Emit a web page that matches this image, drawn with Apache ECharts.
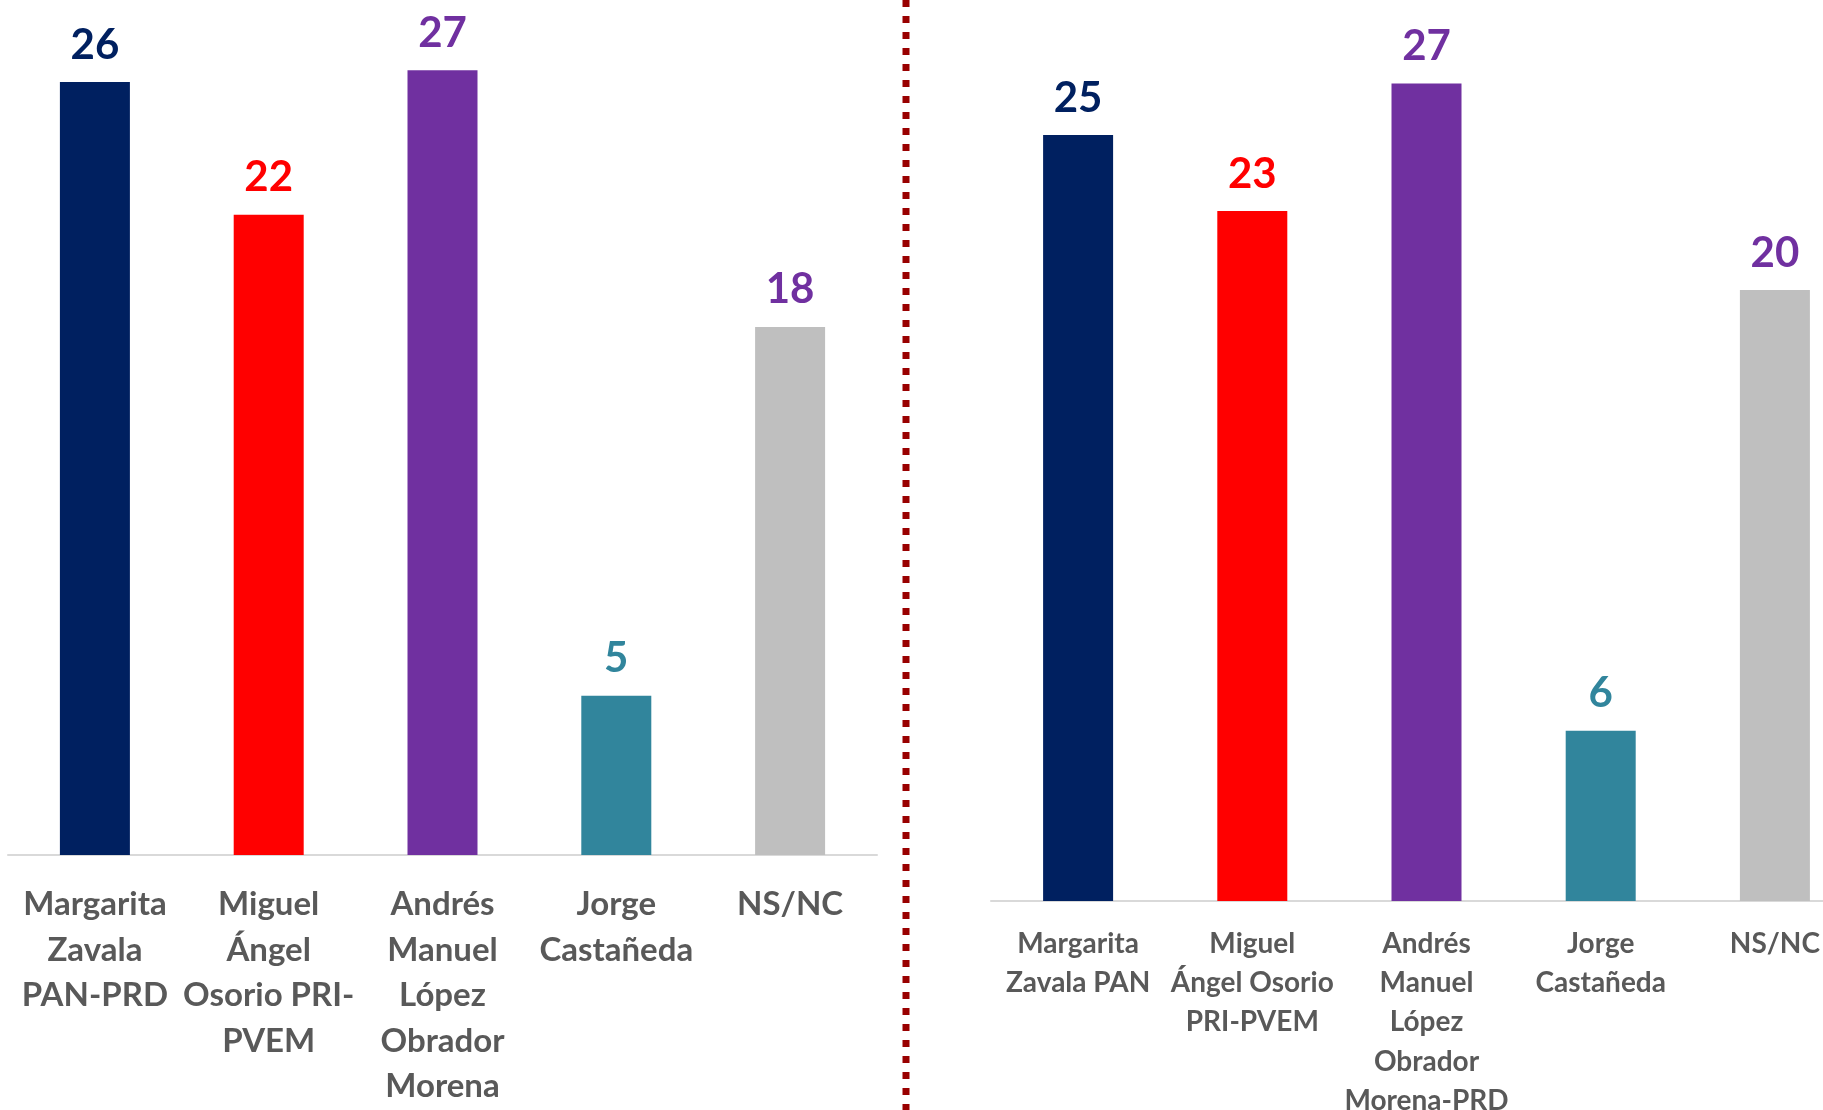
<!DOCTYPE html>
<html>
<head>
<meta charset="utf-8">
<script src="https://cdn.jsdelivr.net/npm/echarts@6/dist/echarts.min.js"></script>
<style>
  html, body { margin: 0; padding: 0; background: #fff; overflow: hidden; }
  #chart { width: 1823px; height: 1110px; }
</style>
</head>
<body>
<div id="chart"></div>
<script>
// categorias (con saltos de línea como en el original)
const categoriesLeft = [
  'Margarita\nZavala\nPAN-PRD',
  'Miguel\nÁngel\nOsorio PRI-\nPVEM',
  'Andrés\nManuel\nLópez\nObrador\nMorena',
  'Jorge\nCastañeda',
  'NS/NC'
]
const categoriesRight = [
  'Margarita\nZavala PAN',
  'Miguel\nÁngel Osorio\nPRI-PVEM',
  'Andrés\nManuel\nLópez\nObrador\nMorena-PRD',
  'Jorge\nCastañeda',
  'NS/NC'
]
const valuesLeft = [26.2, 21.7, 26.6, 5.4, 17.9]
const valuesRight = [25.2, 22.7, 26.9, 5.6, 20.1]

// colores
const barColors = ['#002060', '#FF0000', '#7030A0', '#31859C', '#BFBFBF']
const labelColors = ['#002060', '#FF0000', '#7030A0', '#31859C', '#7030A0']

const chart = echarts.init(document.getElementById('chart'))

const makeData = (values) =>
  values.map((v, i) => ({
    value: v,
    itemStyle: { color: barColors[i] },
    label: { color: labelColors[i] }
  }))

const xAxisBase = {
  type: 'category',
  axisTick: { show: false },
  axisLine: { lineStyle: { color: '#D9D9D9', width: 2 } }
}

const yAxisBase = {
  type: 'value',
  min: 0,
  max: 28,
  show: false,
  splitLine: { show: false }
}

const option = {
  backgroundColor: '#ffffff',
  animation: false,
  grid: [
    { left: 8, top: 29, width: 869, height: 826, outerBoundsMode: 'none' },
    { left: 991, top: 50, width: 871, height: 851, outerBoundsMode: 'none' }
  ],
  xAxis: [
    {
      ...xAxisBase,
      gridIndex: 0,
      data: categoriesLeft,
      axisLabel: {
        interval: 0,
        margin: 27,
        color: '#595959',
        fontFamily: 'Lato',
        fontWeight: 'bold',
        fontSize: 33,
        lineHeight: 45.5
      }
    },
    {
      ...xAxisBase,
      gridIndex: 1,
      data: categoriesRight,
      axisLabel: {
        interval: 0,
        margin: 23,
        color: '#595959',
        fontFamily: 'Lato',
        fontWeight: 'bold',
        fontSize: 28,
        lineHeight: 39.3
      }
    }
  ],
  yAxis: [
    { ...yAxisBase, gridIndex: 0 },
    { ...yAxisBase, gridIndex: 1 }
  ],
  series: [
    {
      type: 'bar',
      xAxisIndex: 0,
      yAxisIndex: 0,
      barWidth: 70,
      data: makeData(valuesLeft),
      label: {
        show: true,
        position: 'top',
        distance: 16,
        fontFamily: 'Lato',
        fontWeight: 'bold',
        fontSize: 42,
        formatter: (p) => Math.round(p.value)
      }
    },
    {
      type: 'bar',
      xAxisIndex: 1,
      yAxisIndex: 1,
      barWidth: 70,
      data: makeData(valuesRight),
      label: {
        show: true,
        position: 'top',
        distance: 16,
        fontFamily: 'Lato',
        fontWeight: 'bold',
        fontSize: 42,
        formatter: (p) => Math.round(p.value)
      }
    }
  ],
  // línea divisoria punteada
  graphic: [
    {
      type: 'line',
      shape: { x1: 906, y1: 0, x2: 906, y2: 1110 },
      style: { stroke: '#990000', lineWidth: 7, lineDash: [7, 9] }
    }
  ]
}

chart.setOption(option)
</script>
</body>
</html>
